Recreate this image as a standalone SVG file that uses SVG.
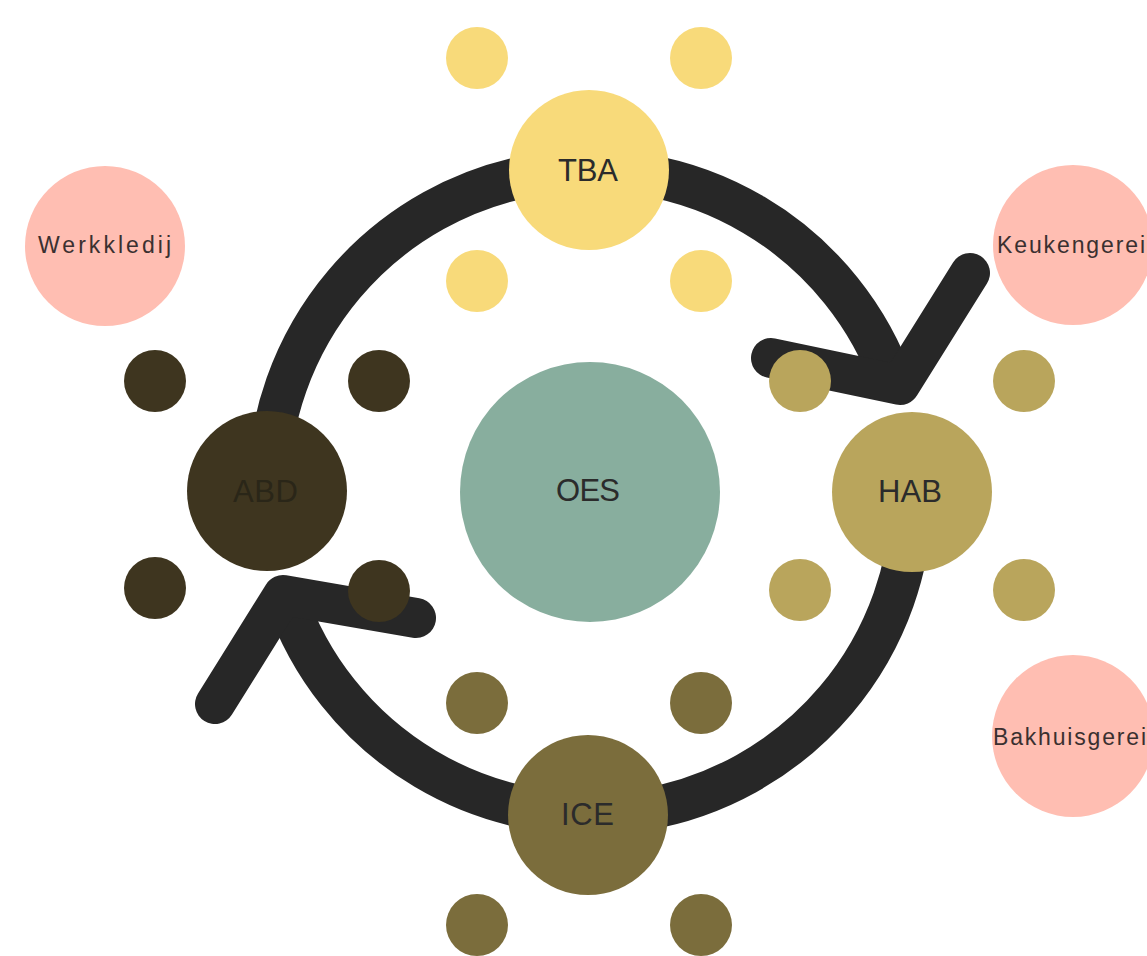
<svg xmlns="http://www.w3.org/2000/svg" width="1147" height="956" viewBox="0 0 1147 956">
<style>
.ring{fill:none;stroke:#272727;stroke-width:42;stroke-linecap:butt}
.arrow{fill:none;stroke:#272727;stroke-width:40;stroke-linecap:round;stroke-linejoin:round}
.tba{fill:#F8DA7A}
.hab{fill:#B9A55C}
.abd{fill:#3E351F}
.ice{fill:#7B6D3C}
.oes{fill:#88AE9E}
.pink{fill:#FFBEB2}
.lbl{font-family:"Liberation Sans","DejaVu Sans",sans-serif;font-size:31px;fill:#2B2B2B}
.sm{font-family:"Liberation Sans","DejaVu Sans",sans-serif;font-size:23px;fill:#3A3030}
</style>
<rect width="1147" height="956" fill="#FFFFFF"/>
<g id="connectors">
<path class="ring" d="M912 492 A322 322 0 0 1 285.5 596.8"/>
<path class="ring" d="M268 492 A322 322 0 0 1 894 386"/>
<polyline class="arrow" points="771,358 900,385 970,273"/>
<polyline class="arrow" points="416,618 283,595 215,704"/>
</g>
<g id="node-OES">
<circle class="oes" cx="590" cy="492" r="130"/>
<text class="lbl" x="556" y="501" textLength="64" lengthAdjust="spacing">OES</text>
</g>
<g id="node-TBA">
<circle class="tba" cx="589" cy="170" r="80"/>
<circle class="tba" cx="477" cy="58" r="31"/>
<circle class="tba" cx="701" cy="58" r="31"/>
<circle class="tba" cx="477" cy="281" r="31"/>
<circle class="tba" cx="701" cy="281" r="31"/>
<text class="lbl" x="558" y="181" textLength="60" lengthAdjust="spacing">TBA</text>
</g>
<g id="node-HAB">
<circle class="hab" cx="912" cy="492" r="80"/>
<circle class="hab" cx="800" cy="381" r="31"/>
<circle class="hab" cx="1024" cy="381" r="31"/>
<circle class="hab" cx="800" cy="590" r="31"/>
<circle class="hab" cx="1024" cy="590" r="31"/>
<text class="lbl" x="878" y="502" textLength="64" lengthAdjust="spacing">HAB</text>
</g>
<g id="node-ABD">
<circle class="abd" cx="267" cy="491" r="80"/>
<circle class="abd" cx="155" cy="381" r="31"/>
<circle class="abd" cx="379" cy="381" r="31"/>
<circle class="abd" cx="155" cy="588" r="31"/>
<circle class="abd" cx="379" cy="591" r="31"/>
<text class="lbl" x="233" y="502" textLength="65" lengthAdjust="spacing" style="fill:#2A2618">ABD</text>
</g>
<g id="node-ICE">
<circle class="ice" cx="588" cy="815" r="80"/>
<circle class="ice" cx="477" cy="703" r="31"/>
<circle class="ice" cx="701" cy="703" r="31"/>
<circle class="ice" cx="477" cy="925" r="31"/>
<circle class="ice" cx="701" cy="925" r="31"/>
<text class="lbl" x="561" y="825" textLength="53" lengthAdjust="spacing">ICE</text>
</g>
<g id="node-Werkkledij">
<circle class="pink" cx="105" cy="246" r="80"/>
<text class="sm" x="38" y="253" textLength="133" lengthAdjust="spacing">Werkkledij</text>
</g>
<g id="node-Keukengerei">
<circle class="pink" cx="1073" cy="245" r="80"/>
<text class="sm" x="997" y="253" textLength="148" lengthAdjust="spacing">Keukengerei</text>
</g>
<g id="node-Bakhuisgerei">
<circle class="pink" cx="1073" cy="736" r="81"/>
<text class="sm" x="993" y="745" textLength="153" lengthAdjust="spacing">Bakhuisgerei</text>
</g>
</svg>
